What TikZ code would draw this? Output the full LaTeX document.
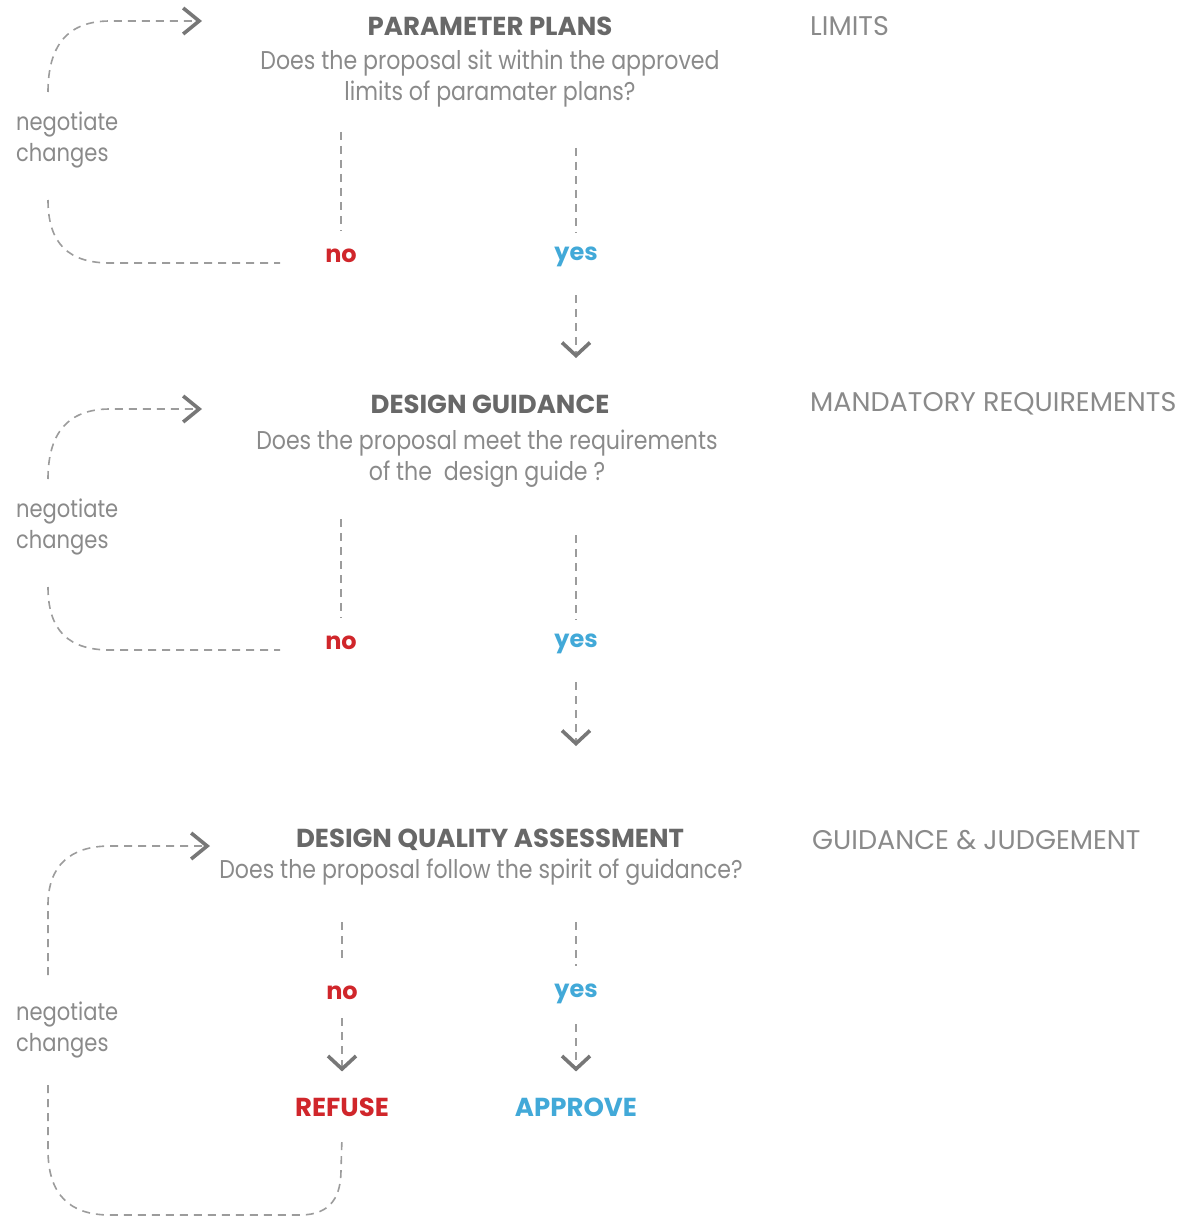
\documentclass[tikz,border=0pt]{standalone}
\usepackage{fontspec}
\setmainfont{Poppins}
\newfontfamily\dglight{Poppins}[FakeStretch=0.86]
\usetikzlibrary{arrows.meta}
\definecolor{dghead}{HTML}{686868}
\definecolor{dgtext}{HTML}{8A8A8A}
\definecolor{dgline}{HTML}{9C9C9C}
\definecolor{dgchev}{HTML}{777777}
\definecolor{dgred}{HTML}{D0262B}
\definecolor{dgblue}{HTML}{42A9D8}
\newcommand\dgheadfont{\fontsize{26}{30}\selectfont\bfseries}
\newcommand\dgquestfont{\dglight\fontsize{25.7}{31}\selectfont}
\newcommand\dgnegfont{\dglight\fontsize{24.5}{31}\selectfont}
\newcommand\dgsidefont{\fontsize{27}{30}\selectfont}
\newcommand\dganswerfont{\fontsize{24}{28}\selectfont\bfseries}
\newcommand\dgoutfont{\fontsize{26}{30}\selectfont\bfseries}
\tikzset{
  headtext/.style={text=dghead, font=\dgheadfont, inner sep=0pt},
  questtext/.style={text=dgtext, font=\dgquestfont, align=center, inner sep=0pt},
  sidetext/.style={text=dgtext, font=\dgsidefont, anchor=west, inner sep=0pt},
  negtext/.style={text=dgtext, font=\dgnegfont, align=left, anchor=west, inner sep=0pt},
  notext/.style={text=dgred, font=\dganswerfont, inner sep=0pt},
  yestext/.style={text=dgblue, font=\dganswerfont, inner sep=0pt},
  outtext/.style={font=\dgoutfont, inner sep=0pt},
  dgdash/.style={draw=dgline, line width=1.6pt, dash pattern=on 8pt off 6pt},
  sidetip/.style={-{Straight Barb[length=16pt,width=26pt,line width=3.6pt,color=dgchev]}},
  downtip/.style={-{Straight Barb[length=13pt,width=28pt,line width=3.6pt,color=dgchev]}}
}
\begin{document}
\begin{tikzpicture}[x=1pt,y=-1pt]
  \useasboundingbox (0,0) rectangle (1181,1217);
  % Parameter plans
  \node[headtext] (pp) at (490,26) {PARAMETER PLANS};
  \node[questtext] (ppq) at (490,79) {Does the proposal sit within the approved\\limits of paramater plans?};
  \node[sidetext] (limits) at (810,26) {LIMITS};
  \node[negtext] (ppneg) at (16,140) {negotiate\\changes};
  \node[notext] (ppno) at (341,256) {no};
  \node[yestext] (ppyes) at (576,257) {yes};
  \coordinate (ppnotop) at (341,132);
  \coordinate (ppyestop) at (576,148);
  \coordinate (pploopa) at (48,92);
  \coordinate (pploopb) at (48,200);
  \coordinate (pptip) at (202,21);
  \coordinate (ppend) at (280,263);
  \coordinate (ppdown) at (576,358);
  \draw[dgdash] (ppnotop) -- ([yshift=18pt]ppno.north);
  \draw[dgdash] (ppyestop) -- ([yshift=14pt]ppyes.north);
  \draw[dgdash, sidetip] (pploopa) .. controls (48,45) and (68,21) .. (110,21) -- (pptip);
  \draw[dgdash] (pploopb) .. controls (48,245) and (70,263) .. (110,263) -- (ppend);
  \draw[dgdash, downtip] ([yshift=-28pt]ppyes.south) -- (ppdown);
  % Design guidance
  \node[headtext] (dg) at (490,404) {DESIGN GUIDANCE};
  \node[questtext] (dgq) at (487,459) {Does the proposal meet the requirements\\of the \ design guide ?};
  \node[sidetext] (mandatory) at (810,404) {MANDATORY REQUIREMENTS};
  \node[negtext] (dgneg) at (16,527) {negotiate\\changes};
  \node[notext] (dgno) at (341,643) {no};
  \node[yestext] (dgyes) at (576,644) {yes};
  \coordinate (dgnotop) at (341,519);
  \coordinate (dgyestop) at (576,535);
  \coordinate (dgloopa) at (48,479);
  \coordinate (dgloopb) at (48,587);
  \coordinate (dgtip) at (202,409);
  \coordinate (dgend) at (280,650);
  \coordinate (dgdown) at (576,746);
  \draw[dgdash] (dgnotop) -- ([yshift=18pt]dgno.north);
  \draw[dgdash] (dgyestop) -- ([yshift=14pt]dgyes.north);
  \draw[dgdash, sidetip] (dgloopa) .. controls (48,433) and (68,409) .. (110,409) -- (dgtip);
  \draw[dgdash] (dgloopb) .. controls (48,632) and (70,650) .. (110,650) -- (dgend);
  \draw[dgdash, downtip] ([yshift=-28pt]dgyes.south) -- (dgdown);
  % Design quality assessment
  \node[headtext] (dq) at (490,840) {DESIGN QUALITY ASSESSMENT};
  \node[questtext] (dqq) at (481,872) {Does the proposal follow the spirit of guidance?};
  \node[sidetext] (judgement) at (812,840) {GUIDANCE \& JUDGEMENT};
  \node[negtext] (dqneg) at (16,1030) {negotiate\\changes};
  \node[notext] (dqno) at (342,993) {no};
  \node[yestext] (dqyes) at (576,994) {yes};
  \node[outtext, text=dgred] (refuse) at (342,1107) {REFUSE};
  \node[outtext, text=dgblue] (approve) at (576,1107) {APPROVE};
  \coordinate (dqnotop) at (342,922);
  \coordinate (dqyestop) at (576,922);
  \coordinate (dqloopa) at (48,975);
  \coordinate (dqloopb) at (48,1085);
  \coordinate (dqtip) at (210,846);
  \draw[dgdash] (dqnotop) -- ([yshift=24pt]dqno.north);
  \draw[dgdash] (dqyestop) -- ([yshift=18pt]dqyes.north);
  \draw[dgdash, downtip] ([yshift=-18pt]dqno.south) -- ([yshift=26pt]refuse.north);
  \draw[dgdash, downtip] ([yshift=-20pt]dqyes.south) -- ([yshift=26pt]approve.north);
  \draw[dgdash, sidetip] (dqloopa) -- (48,905) .. controls (48,866) and (70,846) .. (110,846) -- (dqtip);
  \draw[dgdash] (dqloopb) -- (48,1150) .. controls (48,1195) and (70,1215) .. (110,1215) -- (300,1215)
    .. controls (332,1215) and (341,1195) .. (341,1170) -- ([yshift=-20pt]refuse.south);
\end{tikzpicture}
\end{document}
